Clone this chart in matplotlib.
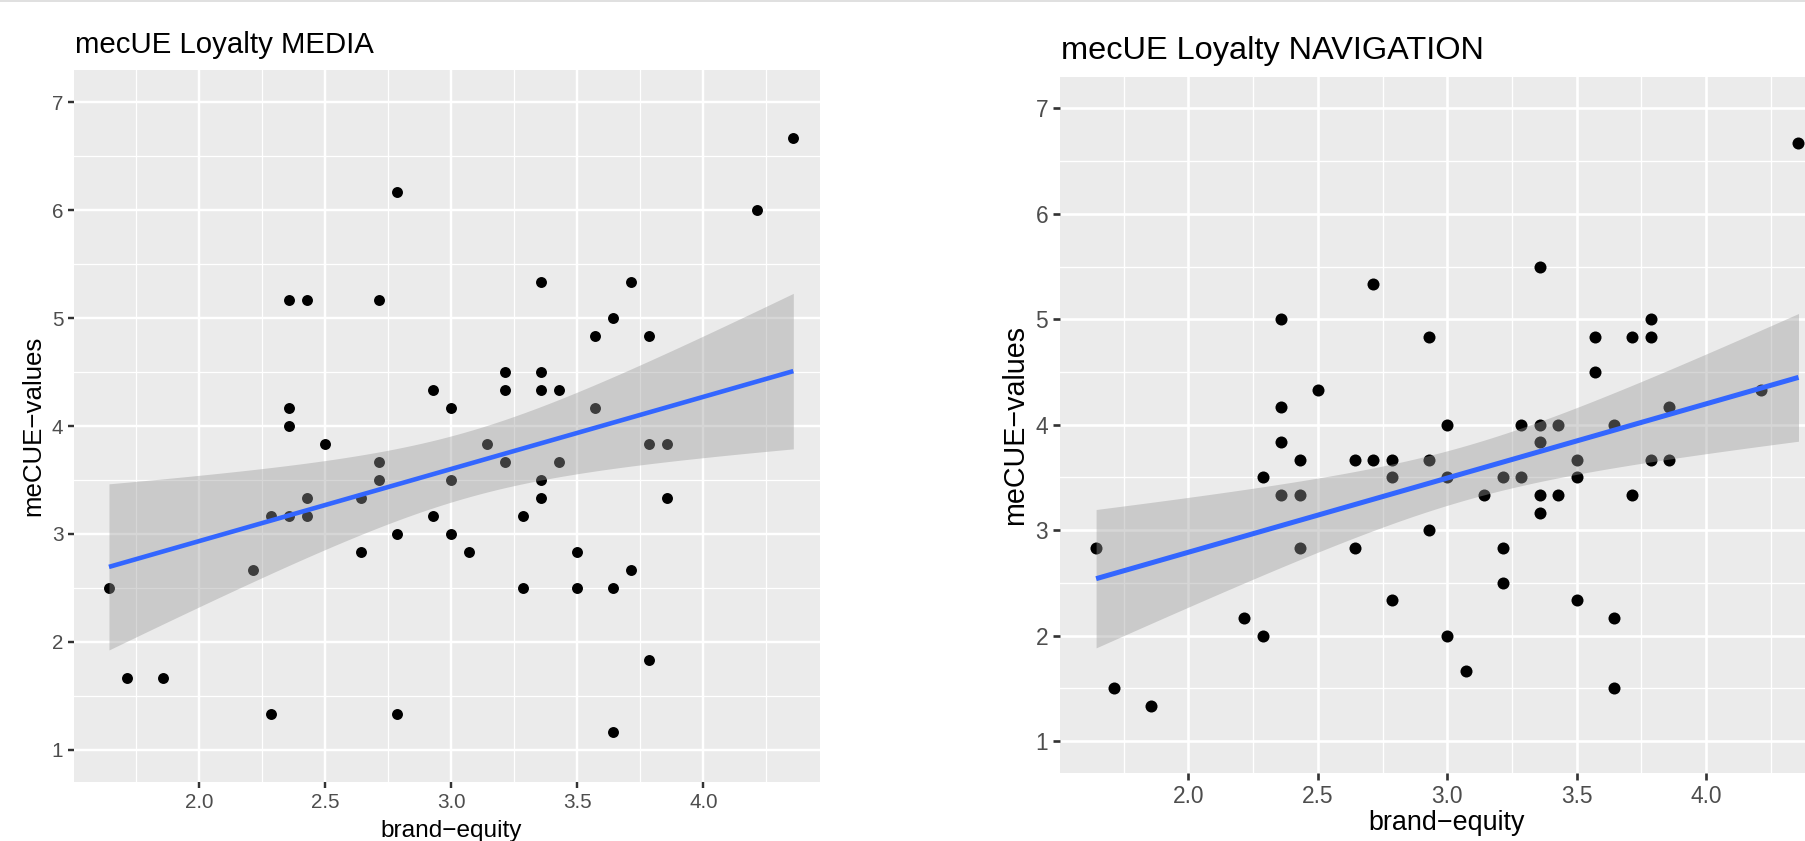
import math
import numpy as np
import matplotlib
matplotlib.use("Agg")
import matplotlib.pyplot as plt
from matplotlib.lines import Line2D

plt.rcParams['font.family'] = ['Liberation Sans', 'DejaVu Sans']

# ---------------- data ----------------
media_x = [1.643, 1.714, 1.857, 2.214, 2.286, 2.286, 2.357, 2.357, 2.357, 2.357,
           2.429, 2.429, 2.429, 2.500, 2.643, 2.643, 2.714, 2.714, 2.714, 2.786,
           2.786, 2.786, 2.929, 2.929, 3.000, 3.000, 3.000, 3.071, 3.143, 3.214,
           3.214, 3.214, 3.286, 3.286, 3.357, 3.357, 3.357, 3.357, 3.357, 3.429,
           3.429, 3.500, 3.500, 3.571, 3.571, 3.643, 3.643, 3.643, 3.714, 3.714,
           3.786, 3.786, 3.786, 3.857, 3.857, 4.214, 4.357]
media_y = [2.500, 1.667, 1.667, 2.667, 3.167, 1.333, 5.167, 4.167, 4.000, 3.167,
           5.167, 3.333, 3.167, 3.833, 3.333, 2.833, 5.167, 3.667, 3.500, 6.167,
           3.000, 1.333, 4.333, 3.167, 4.167, 3.500, 3.000, 2.833, 3.833, 4.500,
           4.333, 3.667, 3.167, 2.500, 5.333, 4.500, 4.333, 3.500, 3.333, 4.333,
           3.667, 2.833, 2.500, 4.833, 4.167, 5.000, 2.500, 1.167, 5.333, 2.667,
           4.833, 3.833, 1.833, 3.833, 3.333, 6.000, 6.667]

nav_x = [1.643, 1.714, 1.857, 2.214, 2.286, 2.286, 2.357, 2.357, 2.357, 2.357,
         2.429, 2.429, 2.429, 2.500, 2.643, 2.643, 2.714, 2.714, 2.786, 2.786,
         2.786, 2.929, 2.929, 2.929, 3.000, 3.000, 3.000, 3.071, 3.143, 3.214,
         3.214, 3.214, 3.286, 3.286, 3.357, 3.357, 3.357, 3.357, 3.357, 3.429,
         3.429, 3.500, 3.500, 3.500, 3.571, 3.571, 3.643, 3.643, 3.643, 3.714,
         3.714, 3.786, 3.786, 3.786, 3.857, 3.857, 4.214, 4.357]
nav_y = [2.833, 1.500, 1.333, 2.167, 3.500, 2.000, 5.000, 4.167, 3.833, 3.333,
         3.667, 3.333, 2.833, 4.333, 3.667, 2.833, 5.333, 3.667, 3.667, 3.500,
         2.333, 4.833, 3.667, 3.000, 4.000, 3.500, 2.000, 1.667, 3.333, 3.500,
         2.833, 2.500, 4.000, 3.500, 5.500, 4.000, 3.833, 3.333, 3.167, 4.000,
         3.333, 3.667, 3.500, 2.333, 4.833, 4.500, 4.000, 2.167, 1.500, 4.833,
         3.333, 5.000, 4.833, 3.667, 4.167, 3.667, 4.333, 6.667]

x_ticks = [2.0, 2.5, 3.0, 3.5, 4.0]
x_ticklabels = ["2.0", "2.5", "3.0", "3.5", "4.0"]
y_ticks = [1, 2, 3, 4, 5, 6, 7]
y_ticklabels = ["1", "2", "3", "4", "5", "6", "7"]
x_minor = [1.75, 2.25, 2.75, 3.25, 3.75, 4.25]
y_minor = [1.5, 2.5, 3.5, 4.5, 5.5, 6.5]

titles = ["mecUE Loyalty MEDIA", "mecUE Loyalty NAVIGATION"]
x_title = "brand\u2212equity"
y_title = "meCUE\u2212values"

# ---------------- helpers ----------------
W, H = 1806, 841
DPI = 100


def t975(df):
    xs = np.linspace(0, 12, 240001)
    c = math.exp(math.lgamma((df + 1) / 2) - math.lgamma(df / 2)) / math.sqrt(df * math.pi)
    pdf = c * (1 + xs ** 2 / df) ** (-(df + 1) / 2)
    cdf = 0.5 + np.concatenate([[0.0], np.cumsum((pdf[1:] + pdf[:-1]) / 2 * np.diff(xs))])
    return float(np.interp(0.975, cdf, xs))


def lm_fit(x, y):
    x = np.asarray(x, float)
    y = np.asarray(y, float)
    n = len(x)
    b, a = np.polyfit(x, y, 1)
    resid = y - (a + b * x)
    s = math.sqrt(np.sum(resid ** 2) / (n - 2))
    xbar = x.mean()
    sxx = np.sum((x - xbar) ** 2)
    xs = np.linspace(x.min(), x.max(), 80)
    fit = a + b * xs
    se = s * np.sqrt(1.0 / n + (xs - xbar) ** 2 / sxx)
    t = t975(n - 2)
    return xs, fit, fit - t * se, fit + t * se


def fx(px):
    return px / W


def fy(py):
    return 1 - py / H


fig = plt.figure(figsize=(W / DPI, H / DPI), dpi=DPI)
fig.patch.set_facecolor("white")

# subtle top border of the screenshot
fig.add_artist(Line2D([0, 1], [fy(0.8), fy(0.8)], color="#DADADA", lw=1.2))

panels = [
    dict(x=media_x, y=media_y, rect=(74, 70, 820, 782), xlim=(1.5043, 4.4628),
         title=titles[0], title_xy=(75, 52.7), fs_title=21.2, fs_axis=17.6, fs_ytitle=18.6,
         fs_tick=14.9, xlab_xy=(451.5, 836.5), ylab_xy=(33.5, 426), sc=1.0, s=62),
    dict(x=nav_x, y=nav_y, rect=(1060, 76.7, 1806, 772.7), xlim=(1.5035, 4.3860),
         title=titles[1], title_xy=(1061, 58.5), fs_title=23.4, fs_axis=19.4, fs_ytitle=20.6,
         fs_tick=16.4, xlab_xy=(1447, 830), ylab_xy=(1015, 424.7), sc=1.1, s=75),
]

for p in panels:
    l, t, r, b = p["rect"]
    ax = fig.add_axes([fx(l), fy(b), fx(r) - fx(l), fy(t) - fy(b)])
    ax.set_facecolor("#EBEBEB")
    for sp in ax.spines.values():
        sp.set_visible(False)
    sc = p["sc"]

    ax.set_xlim(*p["xlim"])
    ax.set_ylim(0.7, 7.3)
    ax.set_xticks(x_ticks)
    ax.set_xticklabels(x_ticklabels)
    ax.set_yticks(y_ticks)
    ax.set_yticklabels(y_ticklabels)
    ax.set_xticks(x_minor, minor=True)
    ax.set_yticks(y_minor, minor=True)
    ax.grid(which="major", color="white", lw=1.75 * sc, zorder=0)
    ax.grid(which="minor", color="white", lw=0.9 * sc, zorder=0)
    ax.set_axisbelow(True)
    ax.tick_params(which="minor", length=0)
    ax.tick_params(which="major", length=4.4 * sc, width=1.75 * sc, color="#333333",
                   labelsize=p["fs_tick"], labelcolor="#4D4D4D", pad=3.4 * sc)

    # points (drawn below the ribbon, as in ggplot)
    ax.scatter(p["x"], p["y"], s=p["s"], color="black", linewidths=0, zorder=2)

    xs, fit, lo, hi = lm_fit(p["x"], p["y"])
    ax.fill_between(xs, lo, hi, color="#999999", alpha=0.4, linewidth=0, zorder=3)
    ax.plot(xs, fit, color="#3366FF", lw=3.3 * sc, zorder=4, solid_capstyle="butt")

    tx, ty = p["title_xy"]
    fig.text(fx(tx), fy(ty), p["title"], fontsize=p["fs_title"], color="black",
             ha="left", va="baseline")
    xx, xy = p["xlab_xy"]
    fig.text(fx(xx), fy(xy), x_title, fontsize=p["fs_axis"], color="black",
             ha="center", va="baseline")
    yx, yy = p["ylab_xy"]
    fig.text(fx(yx), fy(yy), y_title, fontsize=p["fs_ytitle"], color="black",
             ha="center", va="center", rotation=90)

fig.savefig("out.png", dpi=DPI, facecolor="white")
